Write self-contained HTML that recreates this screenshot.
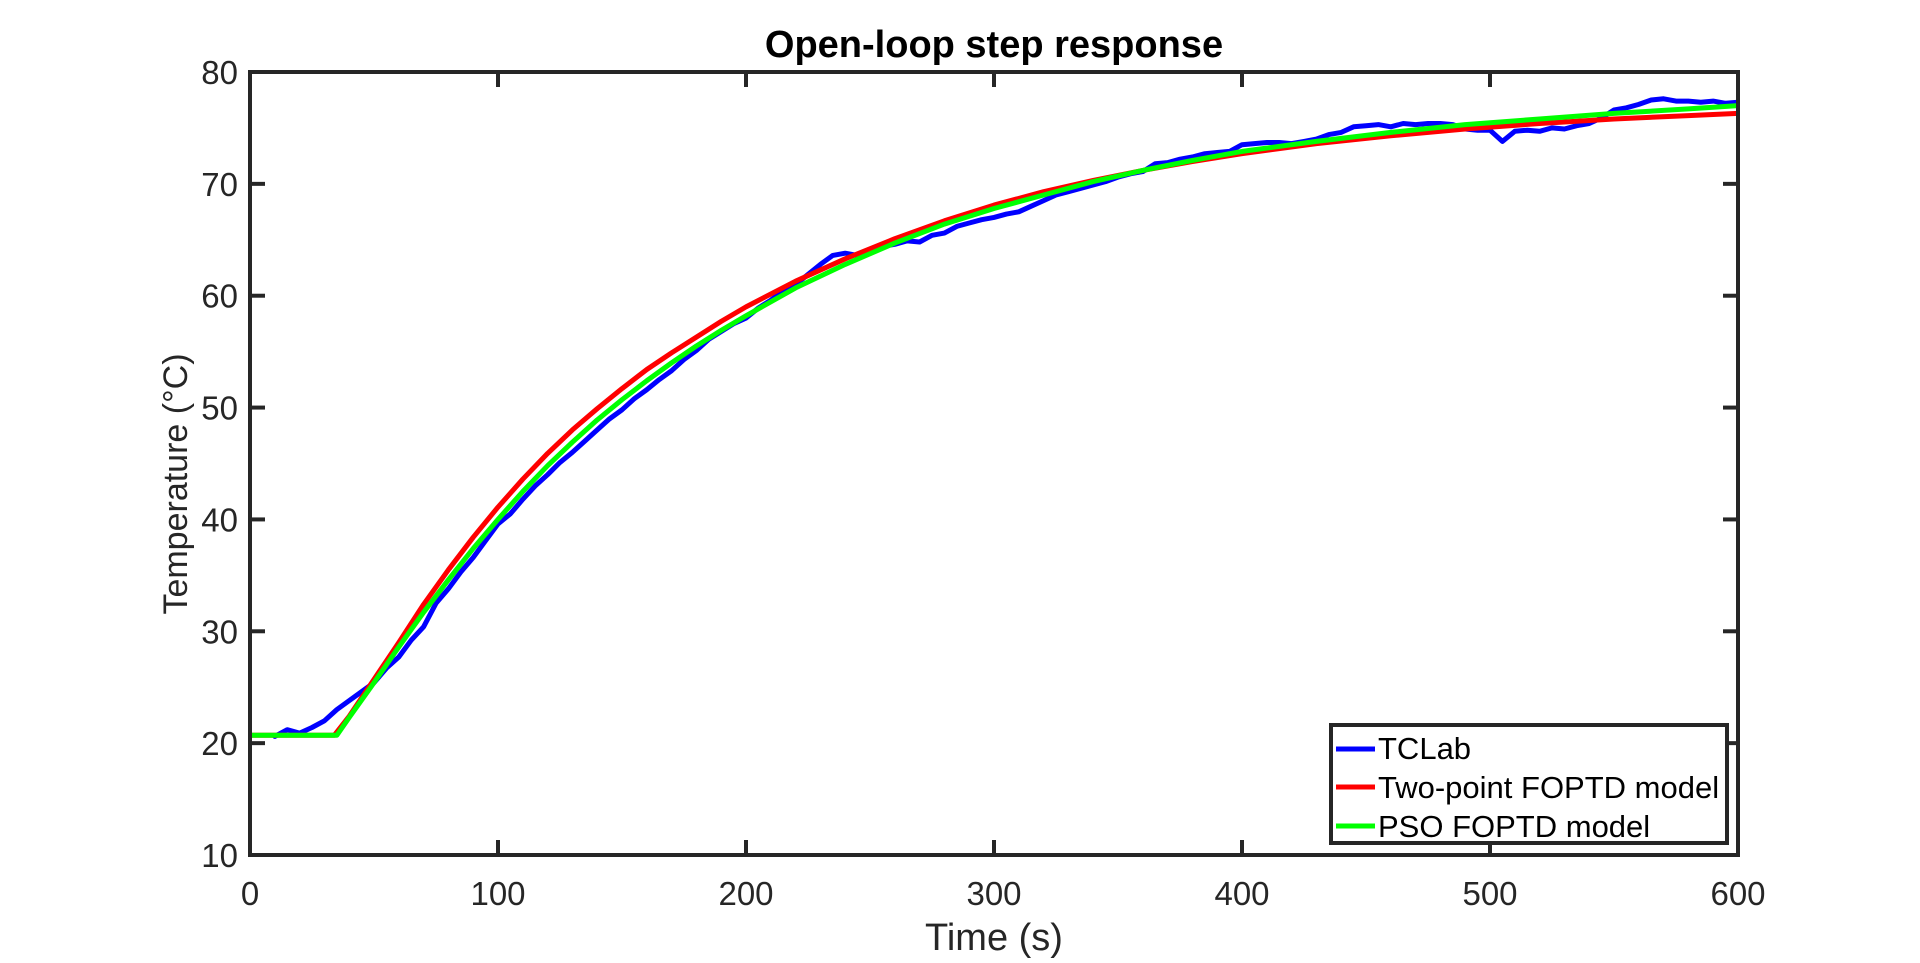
<!DOCTYPE html>
<html><head><meta charset="utf-8"><title>Open-loop step response</title>
<style>html,body{margin:0;padding:0;background:#fff;}svg{display:block;font-family:"Liberation Sans",Arial,sans-serif;}</style>
</head><body>
<svg id="chart" width="1920" height="963" viewBox="0 0 1920 963" xmlns="http://www.w3.org/2000/svg" style="position:absolute;left:0;top:0"></svg>
<script>
const xTicks=[0,100,200,300,400,500,600];
const yTicks=[10,20,30,40,50,60,70,80];
const blueT0=10, blueDt=5;
const tclab=[20.6,21.2,20.9,21.4,22.0,23.0,23.8,24.6,25.4,26.7,27.7,29.2,30.4,32.5,33.8,35.3,36.6,38.1,39.6,40.5,41.8,43.0,44.0,45.1,46.0,47.0,48.0,49.0,49.8,50.8,51.6,52.5,53.3,54.3,55.1,56.1,56.8,57.5,58.0,58.9,59.6,60.4,61.0,61.9,62.8,63.6,63.8,63.6,64.0,64.4,64.6,64.9,64.8,65.4,65.6,66.2,66.5,66.8,67.0,67.3,67.5,68.0,68.5,69.0,69.3,69.6,69.9,70.2,70.6,70.9,71.1,71.8,71.9,72.2,72.4,72.7,72.8,72.9,73.5,73.6,73.7,73.7,73.6,73.8,74.0,74.4,74.6,75.1,75.2,75.3,75.1,75.4,75.3,75.4,75.4,75.3,74.9,74.8,74.8,73.8,74.7,74.8,74.7,75.0,74.9,75.2,75.4,75.9,76.6,76.8,77.1,77.5,77.6,77.4,77.4,77.3,77.4,77.2,77.3];
const greenT=[0,35,40,50,60,70,80,90,100,110,120,130,140,150,160,170,180,190,200,220,240,260,280,300,320,340,360,380,400,430,460,490,520,550,580,600];
const pso=[20.7,20.7,22.3,25.4,28.6,31.7,34.6,37.4,40.0,42.5,44.8,46.9,48.9,50.7,52.4,54.0,55.5,56.9,58.2,60.7,62.8,64.7,66.4,67.8,69.0,70.2,71.2,72.1,72.9,73.8,74.6,75.3,75.8,76.3,76.7,77.0];
const redT=[0,34,40,50,60,70,80,90,100,110,120,130,140,150,160,170,180,190,200,220,240,260,280,300,320,340,360,380,400,430,460,490,520,550,580,600];
const twoPoint=[20.7,20.7,22.4,25.7,29.0,32.4,35.5,38.4,41.1,43.6,45.9,48.0,49.9,51.7,53.4,54.9,56.3,57.7,59.0,61.3,63.3,65.1,66.7,68.1,69.3,70.3,71.2,72.0,72.7,73.6,74.3,74.9,75.4,75.8,76.1,76.3];

const L=250,R=1738,T=72,B=855;
const xs=v=>L+(v-0)/(600-0)*(R-L);
const ys=v=>B-(v-10)/(80-10)*(B-T);
const NS="http://www.w3.org/2000/svg";
const svg=document.getElementById('chart');
function mk(tag,attrs,parent){const e=document.createElementNS(NS,tag);for(const k in attrs)e.setAttribute(k,attrs[k]);(parent||svg).appendChild(e);return e;}

const defs=mk('defs',{});
const cp=mk('clipPath',{id:'plotclip'},defs);
mk('rect',{x:L,y:T,width:R-L,height:B-T},cp);

const bg=mk('rect',{x:L,y:T,width:R-L,height:B-T,fill:'#fff'});



const lines=mk('g',{'clip-path':'url(#plotclip)'});


function series(ts,vals,color,name){
  const pts=vals.map((v,i)=>xs(ts[i]).toFixed(1)+','+ys(v).toFixed(1)).join(' ');
  const p=mk('polyline',{points:pts,fill:'none',stroke:color,'stroke-width':5,'stroke-linejoin':'round','stroke-linecap':'round'},lines);
  
  
}
const blueT=tclab.map((v,i)=>blueT0+i*blueDt);
series(blueT,tclab,'#0000ff','tclab-line');
series(redT,twoPoint,'#ff0000','two-point-fopdt-line');
series(greenT,pso,'#00ff00','pso-fopdt-line');

const ax=mk('g',{stroke:'#262626','stroke-width':4,fill:'none'});


mk('rect',{x:L,y:T,width:R-L,height:B-T},ax);
xTicks.forEach(v=>{const x=xs(v);
  mk('line',{x1:x,y1:B,x2:x,y2:B-15},ax);mk('line',{x1:x,y1:T,x2:x,y2:T+15},ax);
  const t=mk('text',{x:x,y:905,'font-size':33,fill:'#262626','text-anchor':'middle'});t.textContent=v;
  
  
});
yTicks.forEach(v=>{const y=ys(v);
  mk('line',{x1:L,y1:y,x2:L+15,y2:y},ax);mk('line',{x1:R,y1:y,x2:R-15,y2:y},ax);
  const t=mk('text',{x:238,y:y+12,'font-size':33,fill:'#262626','text-anchor':'end'});t.textContent=v;
  
  
});
</script>
<svg style="position:absolute;left:0;top:0" width="1920" height="963">
<text x="994" y="57" font-size="38" font-weight="bold" text-anchor="middle" fill="#000" font-family="Liberation Sans, sans-serif">Open-loop step response</text>
<text x="994" y="950" font-size="38" text-anchor="middle" fill="#262626" font-family="Liberation Sans, sans-serif">Time (s)</text>
<text transform="translate(187,484) rotate(-90)" font-size="34" text-anchor="middle" fill="#262626" font-family="Liberation Sans, sans-serif">Temperature (°C)</text>
<g>
<rect x="1331" y="725" width="396" height="118" fill="#fff" stroke="#262626" stroke-width="4"/>
<g><line x1="1336" y1="749" x2="1375" y2="749" stroke="#0000ff" stroke-width="5"/><text x="1378" y="759" font-size="31" fill="#000" font-family="Liberation Sans, sans-serif">TCLab</text></g>
<g><line x1="1336" y1="787" x2="1375" y2="787" stroke="#ff0000" stroke-width="5"/><text x="1378" y="798" font-size="31" fill="#000" font-family="Liberation Sans, sans-serif">Two-point FOPTD model</text></g>
<g><line x1="1336" y1="826" x2="1375" y2="826" stroke="#00ff00" stroke-width="5"/><text x="1378" y="837" font-size="31" fill="#000" font-family="Liberation Sans, sans-serif">PSO FOPTD model</text></g>
</g>
</svg>
</body></html>
